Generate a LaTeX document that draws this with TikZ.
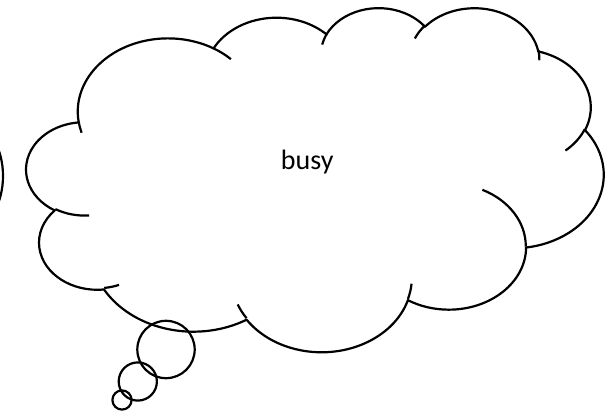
\documentclass[tikz,border=0pt]{standalone}
\usepackage{fontspec}
\setmainfont{Carlito}
\begin{document}
\begin{tikzpicture}[x=1pt,y=1pt,
  outline/.style={draw=black, line width=2.2pt, line join=round},
  cloudtext/.style={font=\fontsize{28}{34}\selectfont, inner sep=0pt, anchor=base}]
\useasboundingbox (0,0) rectangle (615,-411);
% partial shape cut off at the left edge
\draw[outline] (-27,-176) ellipse [x radius=30, y radius=50];
% cloud callout outline
\begin{scope}[shift={(26.5,-7)}, xscale=577/432, yscale=-344/432]
\draw[outline] (39.00,143.70)
  arc[x radius=67.53, y radius=91.90, start angle=-187.75, delta angle=128.12]
  arc[x radius=53.33, y radius=72.67, start angle=-152.02, delta angle=106.60]
  arc[x radius=43.65, y radius=59.45, start angle=-153.49, delta angle=116.17]
  arc[x radius=48.57, y radius=65.95, start angle=-139.69, delta angle=129.48]
  arc[x radius=53.33, y radius=72.73, start angle=-74.77, delta angle=97.98]
  arc[x radius=67.75, y radius=92.20, start angle=-37.51, delta angle=119.37]
  arc[x radius=57.85, y radius=78.67, start angle=0.46, delta angle=121.52]
  arc[x radius=67.52, y radius=92.15, start angle=16.845, delta angle=129.40]
  arc[x radius=77.20, y radius=105.43, start angle=58.98, delta angle=91.22]
  arc[x radius=43.60, y radius=59.18, start angle=-276.69, delta angle=139.81]
  arc[x radius=43.45, y radius=59.45, start angle=-239.65, delta angle=143.76]
  -- cycle;
% inner detail arcs
\draw[outline] (46.93,261.77) arc[x radius=43.45, y radius=59.45, start angle=85.55, delta angle=34.80];
\draw[outline] (69.28,348.99) arc[x radius=43.60, y radius=59.18, start angle=68.23, delta angle=15.08];
\draw[outline] (164.78,390.90) arc[x radius=67.52, y radius=92.15, start angle=146.24, delta angle=12.23];
\draw[outline] (288.27,347.51) arc[x radius=67.52, y radius=92.15, start angle=4.74, delta angle=12.11];
\draw[outline] (341.29,229.54) arc[x radius=57.85, y radius=78.67, start angle=-64.03, delta angle=64.49];
\draw[outline] (417.98,153.54) arc[x radius=53.33, y radius=72.73, start angle=23.21, delta angle=26.41];
\draw[outline] (383.24,54.26) arc[x radius=48.57, y radius=65.95, start angle=-10.21, delta angle=11.03];
\draw[outline] (290.78,39.52) arc[x radius=48.57, y radius=65.95, start angle=-156.28, delta angle=16.59];
\draw[outline] (221.41,47.20) arc[x radius=43.65, y radius=59.45, start angle=-167.73, delta angle=14.24];
\draw[outline] (140.00,51.92) arc[x radius=67.53, y radius=91.90, start angle=-59.63, delta angle=13.93];
\draw[outline] (41.27,157.89) arc[x radius=67.53, y radius=91.90, start angle=163.19, delta angle=9.06];
\end{scope}
% thought bubbles
\draw[outline] (166,-349.5) circle[radius=28.7];
\draw[outline] (137.8,-381.5) circle[radius=19.1];
\draw[outline] (122,-400) circle[radius=9.6];
% text
\node[cloudtext] (busy) at (307.2,-170) {busy};
\end{tikzpicture}
\end{document}
